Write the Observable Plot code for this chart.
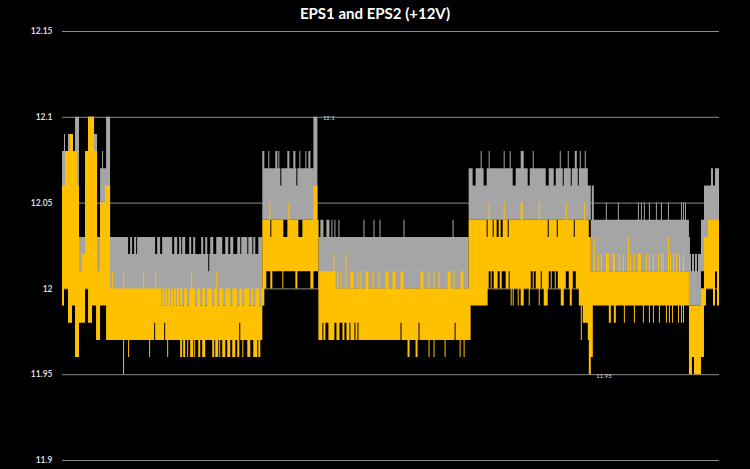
<!DOCTYPE html>
<html>
<head>
<meta charset="utf-8">
<script src="https://cdn.jsdelivr.net/npm/d3@7"></script>
<script src="https://cdn.jsdelivr.net/npm/@observablehq/plot@0.6"></script>
<style>
  html, body { margin: 0; padding: 0; background: #000; }
  #title { height: 24px; box-sizing: border-box; padding-top: 4px; line-height: 18px;
           text-align: center; color: #fff; font: bold 15px Lato, "Open Sans", sans-serif; }
  #chart svg { display: block; }
</style>
</head>
<body>
<div id="title">EPS1 and EPS2 (+12V)</div>
<div id="chart"></div>
<script>
// Sample index runs 0..656 over the recording.
const sampleEnd = 656;
const yTicks = [11.9, 11.95, 12, 12.05, 12.1, 12.15];
const yTickLabels = ["11.9", "11.95", "12", "12.05", "12.1", "12.15"];

// EPS1 (grey): upper envelope — level changes [sample, volts]
const eps1TopLevels = [[0,12.08],[2,12.09],[3,12.08],[6,12.09],[9,12.08],[13,12.1],[17,12.03],[23,12.08],[26,12.1],[32,12.09],[35,12.03],[38,12.07],[44,12.1],[48,12.03],
  [200,12.08],[202,12.07],[251,12.1],[255,12.03],[406,12.07],[525,12.06],[528,12.04],[626,12.02],[638,12.04],[641,12.06],[648,12.07]];
// EPS1 upper envelope excursions [from, to, volts]
const eps1TopSpikes = [[40,41,12.08],
  [66,68,12.02],[70,72,12.02],[74,75,12.02],[93,95,12.02],[98,100,12.02],[110,112,12.02],[115,117,12.02],[119,120,12.02],[123,127,12.02],[129,131,12.02],[133,139,12.02],[141,143,12.02],[145,148,12.02],[146,147,12.01],[151,154,12.02],[160,163,12.02],[166,168,12.02],[171,175,12.02],[178,179,12.02],[185,186,12.02],[190,191,12.02],[193,196,12.02],
  [206,207,12.08],[213,215,12.08],[216,217,12.08],[218,219,12.06],[225,227,12.08],[231,233,12.08],[234,235,12.06],[237,238,12.08],[243,244,12.08],[246,248,12.08],
  [258,261,12.04],[264,267,12.04],[269,270,12.04],[272,273,12.04],[276,277,12.04],[301,302,12.04],[311,312,12.04],[317,318,12.04],[341,342,12.04],[390,391,12.04],
  [410,413,12.06],[418,419,12.08],[421,424,12.06],[426,427,12.08],[441,442,12.08],[447,448,12.08],[450,453,12.06],[458,461,12.08],[465,467,12.06],[470,471,12.08],[483,486,12.06],[491,493,12.06],[497,498,12.08],[500,501,12.06],[505,506,12.08],[508,509,12.06],[512,514,12.08],[515,516,12.06],[517,518,12.08],[522,523,12.08],
  [529,531,12.06],[543,544,12.05],[555,556,12.05],[575,576,12.05],[578,579,12.05],[581,582,12.05],[586,587,12.05],[593,594,12.05],[598,599,12.05],[605,606,12.05],[618,619,12.05],[620,621,12.05],[622,623,12.05],
  [626,627,12.03],[628,629,12.01],[631,632,12.01],[634,635,12.01],[650,652,12.06]];
// EPS1 lower envelope
const eps1BottomLevels = [[0,12.0],[48,11.99],[200,12.04],[256,12.0],[406,12.04],[528,12.01],[626,11.99],[638,12.01]];
const eps1BottomSpikes = [];

// EPS2 (yellow): upper envelope
const eps2TopLevels = [[0,12.06],[3,12.08],[8,12.09],[11,12.08],[15,12.06],[17,12.01],[20,12.02],[23,12.08],[26,12.1],[32,12.08],[35,12.01],[38,12.05],[43,12.06],[48,12.0],
  [200,12.04],[256,12.01],[273,12.0],[406,12.04],[528,12.01],[626,11.99],[638,12.0],[641,12.03],[645,12.04]];
const eps2TopSpikes = [[50,51,12.01],[61,62,12.01],[81,82,12.01],[93,94,12.01],[129,130,12.01],[154,155,12.01],
  [99,100,11.99],[102,103,11.99],[105,106,11.99],[108,109,11.99],[111,112,11.99],[114,115,11.99],[117,118,11.99],[120,122,11.99],[125,127,11.99],[133,135,11.99],[138,140,11.99],[143,145,11.99],[150,152,11.99],[155,157,11.99],[161,163,11.99],[168,170,11.99],[175,177,11.99],[180,182,11.99],[187,189,11.99],[191,193,11.99],[197,199,11.99],
  [207,208,12.05],[208,209,12.03],[221,225,12.03],[226,227,12.05],[236,240,12.03],[251,255,12.06],
  [271,272,12.02],[283,284,12.02],[275,276,12.01],[278,279,12.01],[288,291,12.01],[295,296,12.01],[298,299,12.01],[303,306,12.01],[310,311,12.01],[316,317,12.01],[323,326,12.01],[330,333,12.01],[338,341,12.01],[358,361,12.01],[366,367,12.01],[371,372,12.01],[376,377,12.01],[385,388,12.01],[391,392,12.01],[398,401,12.01],
  [424,425,12.03],[426,427,12.05],[430,431,12.03],[434,436,12.03],[438,440,12.03],[441,442,12.05],[445,446,12.03],[458,460,12.05],[476,477,12.05],[485,486,12.03],[494,495,12.03],[503,504,12.05],[511,512,12.03],[521,522,12.05],[526,528,12.03],
  [531,532,12.03],[565,566,12.03],[605,606,12.03],[535,536,12.02],[538,539,12.02],[543,546,12.02],[550,552,12.02],[556,557,12.02],[560,561,12.02],[567,568,12.02],[571,572,12.02],[575,578,12.02],[583,584,12.02],[586,587,12.02],[590,591,12.02],[595,596,12.02],[598,599,12.02],[600,601,12.02],[607,608,12.02],[610,611,12.02],[613,614,12.02],[616,617,12.02],[620,621,12.02]];
// EPS2 lower envelope
const eps2BottomLevels = [[0,11.99],[2,12.0],[6,11.98],[10,11.99],[13,11.96],[17,11.98],[23,12.0],[26,11.98],[30,11.99],[34,11.97],[38,11.99],[44,11.97],[48,11.97],
  [200,12.01],[256,11.97],[406,11.97],[408,11.99],[425,12.0],[525,11.97],[526,11.95],[528,11.96],[530,11.99],[626,11.95],[638,11.96],[641,11.99],[643,12.0],[650,11.99],[652,12.01],[654,11.99]];
const eps2BottomSpikes = [[66,67,11.96],[87,88,11.96],[105,106,11.96],[118,120,11.96],[121,123,11.96],[125,126,11.96],[128,131,11.96],[132,133,11.96],[136,138,11.96],[140,143,11.96],[150,152,11.96],[153,156,11.96],[157,158,11.96],[160,163,11.96],[165,168,11.96],[170,173,11.96],[175,178,11.96],[180,181,11.96],[185,188,11.96],[191,195,11.96],[196,198,11.96],
  [61,62,11.95],[92,93,11.98],[102,103,11.98],[177,178,11.98],
  [200,202,11.99],[202,204,12.0],[208,210,12.0],[220,221,12.0],[233,235,12.0],[248,251,12.0],
  [260,261,11.98],[263,266,11.98],[272,274,11.98],[277,280,11.98],[282,284,11.98],[287,288,11.98],[292,293,11.98],[295,296,11.98],[338,339,11.98],[356,357,11.98],[392,393,11.98],
  [345,347,11.96],[353,355,11.96],[366,367,11.96],[371,372,11.96],[382,383,11.96],[397,398,11.96],[401,402,11.96],
  [426,428,12.01],[429,431,12.01],[435,437,12.01],[439,443,12.01],[446,447,12.01],[468,470,12.01],[471,473,12.01],[478,479,12.01],[486,488,12.01],[489,492,12.01],[493,495,12.01],[503,506,12.01],[510,513,12.01],
  [448,449,11.99],[450,451,11.99],[455,456,11.99],[458,461,11.99],[466,467,11.99],[476,477,11.99],[481,485,11.99],[498,501,11.99],[507,509,11.99],[516,520,11.99],[518,519,11.97],[520,525,11.98],
  [546,548,11.98],[551,553,11.98],[561,562,11.98],[571,572,11.98],[580,581,11.98],[586,587,11.98],[590,591,11.98],[596,597,11.98],[603,604,11.98],[606,607,11.98],[609,610,11.98],[615,616,11.98],[618,619,11.98],[620,621,11.98],
  [629,631,11.96]];

// Max / min data labels
const labelSamples = [254, 527];
const labelValues = [12.1, 11.95];
const labelTexts = ["12.1", "11.95"];

function edge(levels, spikes) {
  return t => {
    let v;
    for (const [t0, val] of levels) if (t0 <= t) v = val;
    for (const [a, b, val] of spikes) if (t >= a && t < b) v = val;
    return v;
  };
}
function envelope(topLevels, topSpikes, botLevels, botSpikes) {
  const top = edge(topLevels, topSpikes), bot = edge(botLevels, botSpikes);
  const ts = new Set([sampleEnd]);
  for (const arr of [topLevels, botLevels]) for (const [t] of arr) ts.add(t);
  for (const arr of [topSpikes, botSpikes]) for (const [a, b] of arr) { ts.add(a); ts.add(b); }
  return [...ts].filter(t => t <= sampleEnd).sort((a, b) => a - b)
    .map(t => ({t, hi: top(t), lo: bot(t)}));
}
const eps1 = envelope(eps1TopLevels, eps1TopSpikes, eps1BottomLevels, eps1BottomSpikes);
const eps2 = envelope(eps2TopLevels, eps2TopSpikes, eps2BottomLevels, eps2BottomSpikes);
const labels = labelSamples.map((t, i) => ({t, v: labelValues[i], text: labelTexts[i]}));

const chart = Plot.plot({
  width: 750,
  height: 445,
  marginLeft: 62,
  marginRight: 31,
  marginTop: 7,
  marginBottom: 9,
  style: {background: "#000", color: "#d9d9d9", fontFamily: "Lato, 'Open Sans', sans-serif"},
  x: {domain: [0, sampleEnd], axis: null},
  y: {domain: [11.9, 12.15], axis: null},
  marks: [
    Plot.gridY(yTicks, {stroke: "#8c8c8c", strokeOpacity: 1, strokeWidth: 1}),
    Plot.areaY(eps1, {x: "t", y1: "lo", y2: "hi", curve: "step-after", fill: "#a5a5a5"}),
    Plot.areaY(eps2, {x: "t", y1: "lo", y2: "hi", curve: "step-after", fill: "#ffc000"}),
    Plot.text(labels, {x: "t", y: "v", text: "text", textAnchor: "start", dx: 6, dy: 1, fontSize: 6, fill: "#d9d9d9"}),
    Plot.axisY(yTicks, {tickSize: 0, tickPadding: 10, fontSize: 8.5, fontWeight: "bold",
      tickFormat: (d, i) => yTickLabels[i], fill: "#d9d9d9"})
  ]
});
document.getElementById("chart").appendChild(chart);
</script>
</body>
</html>
